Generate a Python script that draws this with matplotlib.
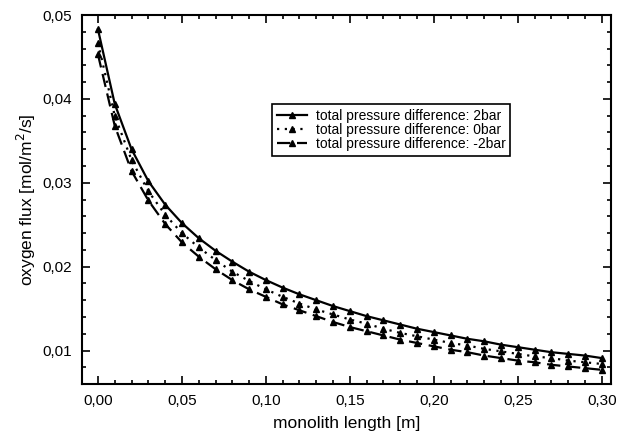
import numpy as np
import matplotlib.pyplot as plt
from matplotlib.ticker import MultipleLocator, FuncFormatter

plt.rcParams['font.family'] = ['Liberation Sans', 'DejaVu Sans']

length = [i / 100 for i in range(31)]

flux_2bar = [0.0483, 0.0394, 0.0340, 0.0302, 0.0274, 0.0252, 0.0234, 0.0219, 0.0206, 0.0194,
             0.0184, 0.0175, 0.0167, 0.0160, 0.0153, 0.0147, 0.0141, 0.0136, 0.0131, 0.0126,
             0.0122, 0.0118, 0.0114, 0.0111, 0.0107, 0.0104, 0.0101, 0.0098, 0.0096, 0.0094, 0.0091]
flux_0bar = [0.0467, 0.0380, 0.0327, 0.0290, 0.0262, 0.0240, 0.0223, 0.0208, 0.0194, 0.0183,
             0.0173, 0.0164, 0.0156, 0.0149, 0.0143, 0.0137, 0.0132, 0.0126, 0.0121, 0.0117,
             0.0113, 0.0109, 0.0106, 0.0102, 0.0099, 0.0096, 0.0093, 0.0091, 0.0088, 0.0086, 0.0084]
flux_m2bar = [0.0453, 0.0368, 0.0314, 0.0279, 0.0251, 0.0229, 0.0212, 0.0197, 0.0184, 0.0173,
              0.0164, 0.0155, 0.0148, 0.0141, 0.0134, 0.0128, 0.0123, 0.0118, 0.0113, 0.0109,
              0.0105, 0.0101, 0.0098, 0.0094, 0.0091, 0.0088, 0.0086, 0.0083, 0.0081, 0.0079, 0.0077]

labels = ["total pressure difference: 2bar",
          "total pressure difference: 0bar",
          "total pressure difference: -2bar"]

fig = plt.figure(figsize=(6.26, 4.43), dpi=100)
ax = fig.add_axes([0.131, 0.133, 0.845, 0.833])

ax.plot(length, flux_2bar, color='black', linestyle='-', linewidth=1.6,
        marker='^', markersize=4.5, label=labels[0])
ax.plot(length, flux_0bar, color='black', linestyle=(0, (1, 2.5)), linewidth=1.6,
        marker='^', markersize=4.5, label=labels[1])
ax.plot(length, flux_m2bar, color='black', linestyle=(0, (6, 3)), linewidth=1.6,
        marker='^', markersize=4.5, label=labels[2])

ax.set_xlim(-0.0095, 0.3055)
ax.set_ylim(0.006, 0.05)
ax.xaxis.set_major_locator(MultipleLocator(0.05))
ax.xaxis.set_minor_locator(MultipleLocator(0.01))
ax.yaxis.set_major_locator(MultipleLocator(0.01))
ax.yaxis.set_minor_locator(MultipleLocator(0.002))
comma = FuncFormatter(lambda v, p: f"{v:.2f}".replace('.', ','))
ax.xaxis.set_major_formatter(comma)
ax.yaxis.set_major_formatter(comma)

ax.tick_params(which='both', direction='in', top=True, right=True, labelsize=11, width=1.2)
ax.tick_params(which='major', length=6, pad=7)
ax.tick_params(which='minor', length=3)
for s in ax.spines.values():
    s.set_linewidth(1.5)

ax.set_xlabel("monolith length [m]", fontsize=12.5, labelpad=6)
ax.set_ylabel("oxygen flux [mol/m$^2$/s]", fontsize=12.5, labelpad=3)

leg = ax.legend(loc='upper left', bbox_to_anchor=(0.359, 0.759), fontsize=10,
                handlelength=2.2, fancybox=False, edgecolor='black', framealpha=1,
                borderpad=0.35, labelspacing=0.0, handletextpad=0.6, borderaxespad=0)
leg.get_frame().set_linewidth(1.2)

fig.savefig("out.png", dpi=100)
